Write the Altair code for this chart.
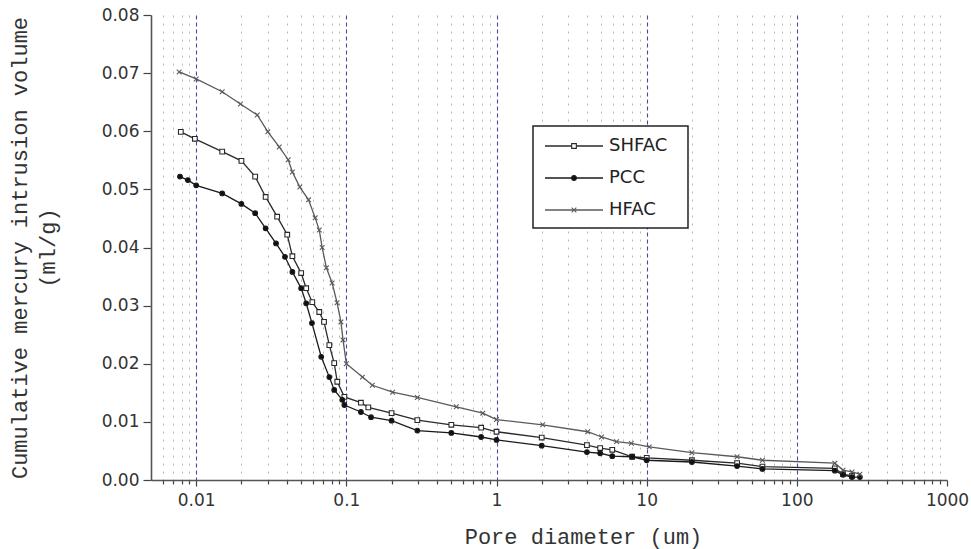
import altair as alt
import pandas as pd

SERIES = ["SHFAC", "PCC", "HFAC"]

SHFAC_X = [0.0079, 0.0098, 0.0149, 0.020, 0.0247, 0.029, 0.0346, 0.0404, 0.0437, 0.050, 0.054, 0.0593,
           0.066, 0.071, 0.077, 0.083, 0.087, 0.097, 0.125, 0.14, 0.2, 0.297, 0.5, 0.79, 1.0, 2.0, 4.0,
           4.9, 5.9, 8.0, 10.0, 20, 40, 59, 179, 203, 233]
SHFAC_Y = [0.0599, 0.0587, 0.0565, 0.0549, 0.0522, 0.0487, 0.0453, 0.0422, 0.0385, 0.0356, 0.0330, 0.0306,
           0.0289, 0.0272, 0.0232, 0.0201, 0.0169, 0.0143, 0.0133, 0.0125, 0.0115, 0.0103, 0.0095, 0.0090,
           0.0083, 0.0073, 0.0060, 0.0055, 0.0052, 0.0040, 0.0038, 0.0034, 0.0029, 0.0023, 0.0020, 0.0010,
           0.0007]

PCC_X = [0.0078, 0.0088, 0.0100, 0.0149, 0.020, 0.0247, 0.029, 0.034, 0.039, 0.0437, 0.050, 0.054, 0.059,
         0.068, 0.077, 0.083, 0.094, 0.097, 0.125, 0.146, 0.2, 0.297, 0.5, 0.79, 1.0, 2.0, 4.0, 4.9, 5.9,
         8.0, 10.0, 20, 40, 59, 179, 203, 233, 263]
PCC_Y = [0.0522, 0.0516, 0.0507, 0.0493, 0.0475, 0.0459, 0.0433, 0.0407, 0.0384, 0.0358, 0.0330, 0.0304,
         0.0270, 0.0212, 0.0177, 0.0155, 0.0138, 0.0129, 0.0117, 0.0108, 0.0102, 0.0085, 0.0081, 0.0074,
         0.0069, 0.0059, 0.0048, 0.0046, 0.0041, 0.0040, 0.0034, 0.0031, 0.0024, 0.0019, 0.0016, 0.0009,
         0.0005, 0.0005]

HFAC_X = [0.0077, 0.0100, 0.0149, 0.0197, 0.0255, 0.030, 0.0357, 0.041, 0.0437, 0.049, 0.056, 0.062,
          0.066, 0.069, 0.0736, 0.0804, 0.0867, 0.092, 0.095, 0.100, 0.128, 0.149, 0.203, 0.297, 0.54,
          0.81, 1.0, 2.03, 4.05, 5.0, 6.3, 7.9, 10.4, 20, 40, 59, 179, 203, 233, 263]
HFAC_Y = [0.0702, 0.0690, 0.0668, 0.0647, 0.0628, 0.0599, 0.0573, 0.0551, 0.0530, 0.0504, 0.0482, 0.0451,
          0.0430, 0.0400, 0.0365, 0.0339, 0.0305, 0.0272, 0.0241, 0.0200, 0.0177, 0.0163, 0.0151, 0.0142,
          0.0126, 0.0115, 0.0104, 0.0095, 0.0083, 0.0074, 0.0066, 0.0063, 0.0057, 0.0047, 0.0040, 0.0034,
          0.0029, 0.0017, 0.0014, 0.0010]

X_TICKS = [0.006, 0.007, 0.008, 0.009,
           0.01, 0.02, 0.03, 0.04, 0.05, 0.06, 0.07, 0.08, 0.09,
           0.1, 0.2, 0.3, 0.4, 0.5, 0.6, 0.7, 0.8, 0.9,
           1, 2, 3, 4, 5, 6, 7, 8, 9,
           10, 20, 30, 40, 50, 60, 70, 80, 90,
           100, 200, 300, 400, 500, 600, 700, 800, 900, 1000]
Y_TICKS = [0.0, 0.005, 0.01, 0.015, 0.02, 0.025, 0.03, 0.035, 0.04, 0.045, 0.05, 0.055,
           0.06, 0.065, 0.07, 0.075, 0.08]

rows = []
for name, xs, ys in [("SHFAC", SHFAC_X, SHFAC_Y), ("PCC", PCC_X, PCC_Y), ("HFAC", HFAC_X, HFAC_Y)]:
    for x, y in zip(xs, ys):
        rows.append({"series": name, "d": x, "v": y})
df = pd.DataFrame(rows)

LINE_COLORS = ["#2a2a2a", "#1a1a1a", "#5a5a5a"]
CROSS = "M-1,-1L1,1M-1,1L1,-1"
SHAPES = ["square", "circle", CROSS]
FILLS = ["#ffffff", "#111111", "transparent"]

is_decade = "abs(log(datum.value)/LN10 - round(log(datum.value)/LN10)) < 1e-6"
PLOT_W, PLOT_H = 796, 465

x_axis = alt.Axis(
    values=X_TICKS,
    labelExpr=f"({is_decade}) ? format(datum.value, '~g') : ''",
    labelFont="DejaVu Sans", labelFontSize=17, labelColor="#333", labelPadding=6,
    labelFlush=False, labelOverlap=False,
    tickSize={"condition": {"test": is_decade, "value": 6}, "value": 4},
    tickColor="#444", tickWidth=1.2,
    domainColor="#555", domainWidth=1.6,
    grid=True,
    gridColor={"condition": {"test": is_decade, "value": "#4a4a9c"}, "value": "#9fb89a"},
    gridDash={"condition": {"test": is_decade, "value": [4, 3]}, "value": [2, 6]},
    gridWidth={"condition": {"test": is_decade, "value": 1.1}, "value": 0.9},
    gridOpacity={"condition": {"test": "datum.value >= 999", "value": 0}, "value": 1},
    title="Pore diameter (um)",
    titleFont="Liberation Mono", titleFontSize=22, titleFontWeight="normal", titleColor="#333",
    titleX=432, titleY=56, titleAnchor="middle", titleBaseline="middle",
)

y_axis = alt.Axis(
    values=Y_TICKS,
    labelExpr="(round(datum.value*1000) % 10 == 0) ? format(datum.value, '.2f') : ''",
    labelFont="DejaVu Sans", labelFontSize=17, labelColor="#333", labelPadding=4,
    labelFlush=False, labelOverlap=False,
    tickSize={"condition": {"test": "round(datum.value*1000) % 10 == 0", "value": 8}, "value": 4},
    tickColor="#444", tickWidth=1.2,
    domainColor="#555", domainWidth=1.6,
    grid=False,
    title=["Cumulative mercury intrusion volume", "(ml/g)"],
    titleFont="Liberation Mono", titleFontSize=22, titleFontWeight="normal", titleColor="#333",
    titleLineHeight=28, titlePadding=42,
)

x_enc = alt.X("d:Q", scale=alt.Scale(type="log", domain=[0.005, 1000], nice=False), axis=x_axis)
y_enc = alt.Y("v:Q", scale=alt.Scale(domain=[0, 0.08], nice=False), axis=y_axis)

base = alt.Chart(df)
lines = base.mark_line(strokeWidth=1.3).encode(
    x=x_enc, y=y_enc,
    color=alt.Color("series:N", scale=alt.Scale(domain=SERIES, range=LINE_COLORS), legend=None),
    detail="series:N",
)
points = base.mark_point(filled=False, strokeWidth=1.1, opacity=1).encode(
    x=alt.X("d:Q"), y=alt.Y("v:Q"),
    shape=alt.Shape("series:N", scale=alt.Scale(domain=SERIES, range=SHAPES), legend=None),
    fill=alt.Fill("series:N", scale=alt.Scale(domain=SERIES, range=FILLS), legend=None),
    stroke=alt.Stroke("series:N", scale=alt.Scale(domain=SERIES, range=LINE_COLORS), legend=None),
    size=alt.value(22),
)

# legend box (drawn by hand in pixel space)
one_row = alt.Chart(df).transform_aggregate(n="count()")
legend_layers = [
    one_row.mark_rect(fill="white", stroke="#222", strokeWidth=1.5).encode(
        x=alt.value(382), x2=alt.value(537), y=alt.value(111), y2=alt.value(213)
    )
]
for i, name in enumerate(SERIES):
    yy = 131 + i * 32
    sub = alt.Chart(df).transform_filter(f"datum.series == '{name}'").transform_aggregate(
        n="count()", groupby=["series"]
    )
    legend_layers.append(sub.mark_rule(color=LINE_COLORS[i], strokeWidth=1.3).encode(
        x=alt.value(394), x2=alt.value(452), y=alt.value(yy)))
    legend_layers.append(sub.mark_point(shape=SHAPES[i], fill=FILLS[i], stroke=LINE_COLORS[i],
                                        filled=False, strokeWidth=1.1, size=22, opacity=1).encode(
        x=alt.value(423), y=alt.value(yy)))
    legend_layers.append(sub.mark_text(align="left", baseline="middle", font="DejaVu Sans",
                                       fontSize=18, color="#222").encode(
        x=alt.value(458), y=alt.value(yy), text="series:N"))

chart = alt.layer(lines, points, *legend_layers).properties(
    width=PLOT_W, height=PLOT_H,
    padding={"left": 151, "top": 15, "right": 24, "bottom": 69},
    autosize=alt.AutoSizeParams(type="none"),
    background="white",
).configure_view(stroke=None)

chart.save("out.html", embed_options={"renderer": "svg", "actions": False})
